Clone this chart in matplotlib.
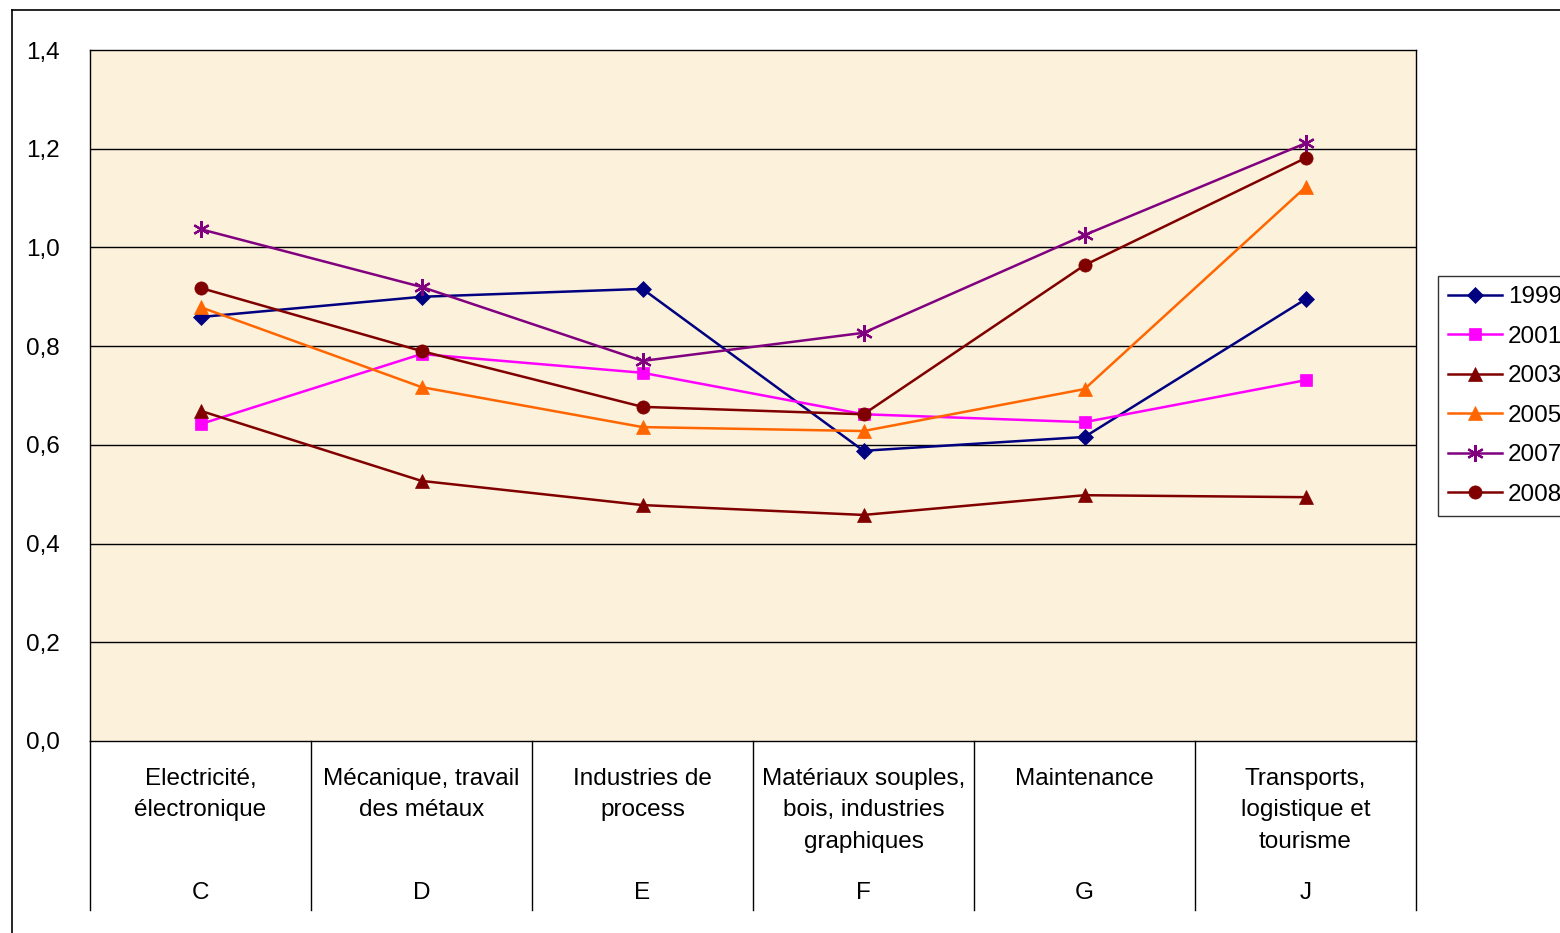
import matplotlib.pyplot as plt
from matplotlib.lines import Line2D
import matplotlib.transforms as mtransforms

plt.rcParams['font.family'] = ['Liberation Sans', 'DejaVu Sans']

# data
categories = ["Electricité,\nélectronique", "Mécanique, travail\ndes métaux",
              "Industries de\nprocess", "Matériaux souples,\nbois, industries\ngraphiques",
              "Maintenance", "Transports,\nlogistique et\ntourisme"]
codes = ["C", "D", "E", "F", "G", "J"]
years = ["1999", "2001", "2003", "2005", "2007", "2008"]
v1999 = [0.859, 0.900, 0.916, 0.588, 0.616, 0.895]
v2001 = [0.642, 0.784, 0.746, 0.662, 0.646, 0.731]
v2003 = [0.669, 0.527, 0.478, 0.458, 0.498, 0.494]
v2005 = [0.879, 0.717, 0.636, 0.628, 0.713, 1.122]
v2007 = [1.037, 0.920, 0.770, 0.827, 1.025, 1.211]
v2008 = [0.918, 0.790, 0.677, 0.662, 0.964, 1.181]
yticks = [0.0, 0.2, 0.4, 0.6, 0.8, 1.0, 1.2, 1.4]

series = [v1999, v2001, v2003, v2005, v2007, v2008]
colors = ["#000080", "#FF00FF", "#800000", "#FF6600", "#800080", "#800000"]
markers = ["D", "s", "^", "^", (6, 2, 0), "o"]
msizes = [8, 9, 10, 10, 12, 9.5]
fs = 17.5

fig = plt.figure(figsize=(15.6, 9.33), dpi=100)
W, H = 1560, 933
ax = fig.add_axes([90 / W, 1 - 741 / H, (1416 - 90) / W, (741 - 50) / H])
ax.set_facecolor("#FCF1DB")

# outer chart border
fig.add_artist(Line2D([12 / W, 12 / W], [0, 1 - 10 / H], color="black", lw=1.2))
fig.add_artist(Line2D([12 / W, 1], [1 - 10 / H, 1 - 10 / H], color="black", lw=1.2))

x = list(range(len(categories)))
for vals, c, m, ms, lab in zip(series, colors, markers, msizes, years):
    ax.plot(x, vals, color=c, marker=m, markersize=ms, lw=1.8, label=lab,
            markeredgecolor=c, markeredgewidth=1.6 if m == (6, 2, 0) else 0.5,
            zorder=3)

ax.set_xlim(-0.5, len(categories) - 0.5)
ax.set_ylim(0, 1.4)
ax.set_yticks(yticks)
ax.set_yticklabels([f"{t:.1f}".replace(".", ",") for t in yticks], fontsize=fs)
ax.tick_params(axis="y", length=0, pad=22)
ax.set_xticks([])
for t in yticks[1:-1]:
    ax.axhline(t, color="black", lw=1.0, zorder=1)
for s in ax.spines.values():
    s.set_color("black")
    s.set_linewidth(1.0)

# category labels and separators below the axis
tr = mtransforms.blended_transform_factory(ax.transData, fig.transFigure)
for i in range(len(categories) + 1):
    ax.add_line(Line2D([i - 0.5, i - 0.5], [1 - 741 / H, 1 - 910 / H], transform=tr,
                       color="black", lw=1.0, clip_on=False))
for i, (cat, code) in enumerate(zip(categories, codes)):
    ax.text(i, 1 - 768 / H, cat, transform=tr, ha="center", va="top",
            fontsize=fs, linespacing=1.55)
    ax.text(i, 1 - 893 / H, code, transform=tr, ha="center", va="center", fontsize=fs)

leg = fig.legend(loc="upper left", bbox_to_anchor=(1438 / W, 1 - 276 / H),
                 fontsize=fs, frameon=True, fancybox=False, edgecolor="black",
                 handlelength=2.2, handletextpad=0.25, labelspacing=0.72,
                 borderpad=0.42, borderaxespad=0)
leg.get_frame().set_linewidth(1.0)

fig.savefig("out.png", dpi=100, facecolor="white")
